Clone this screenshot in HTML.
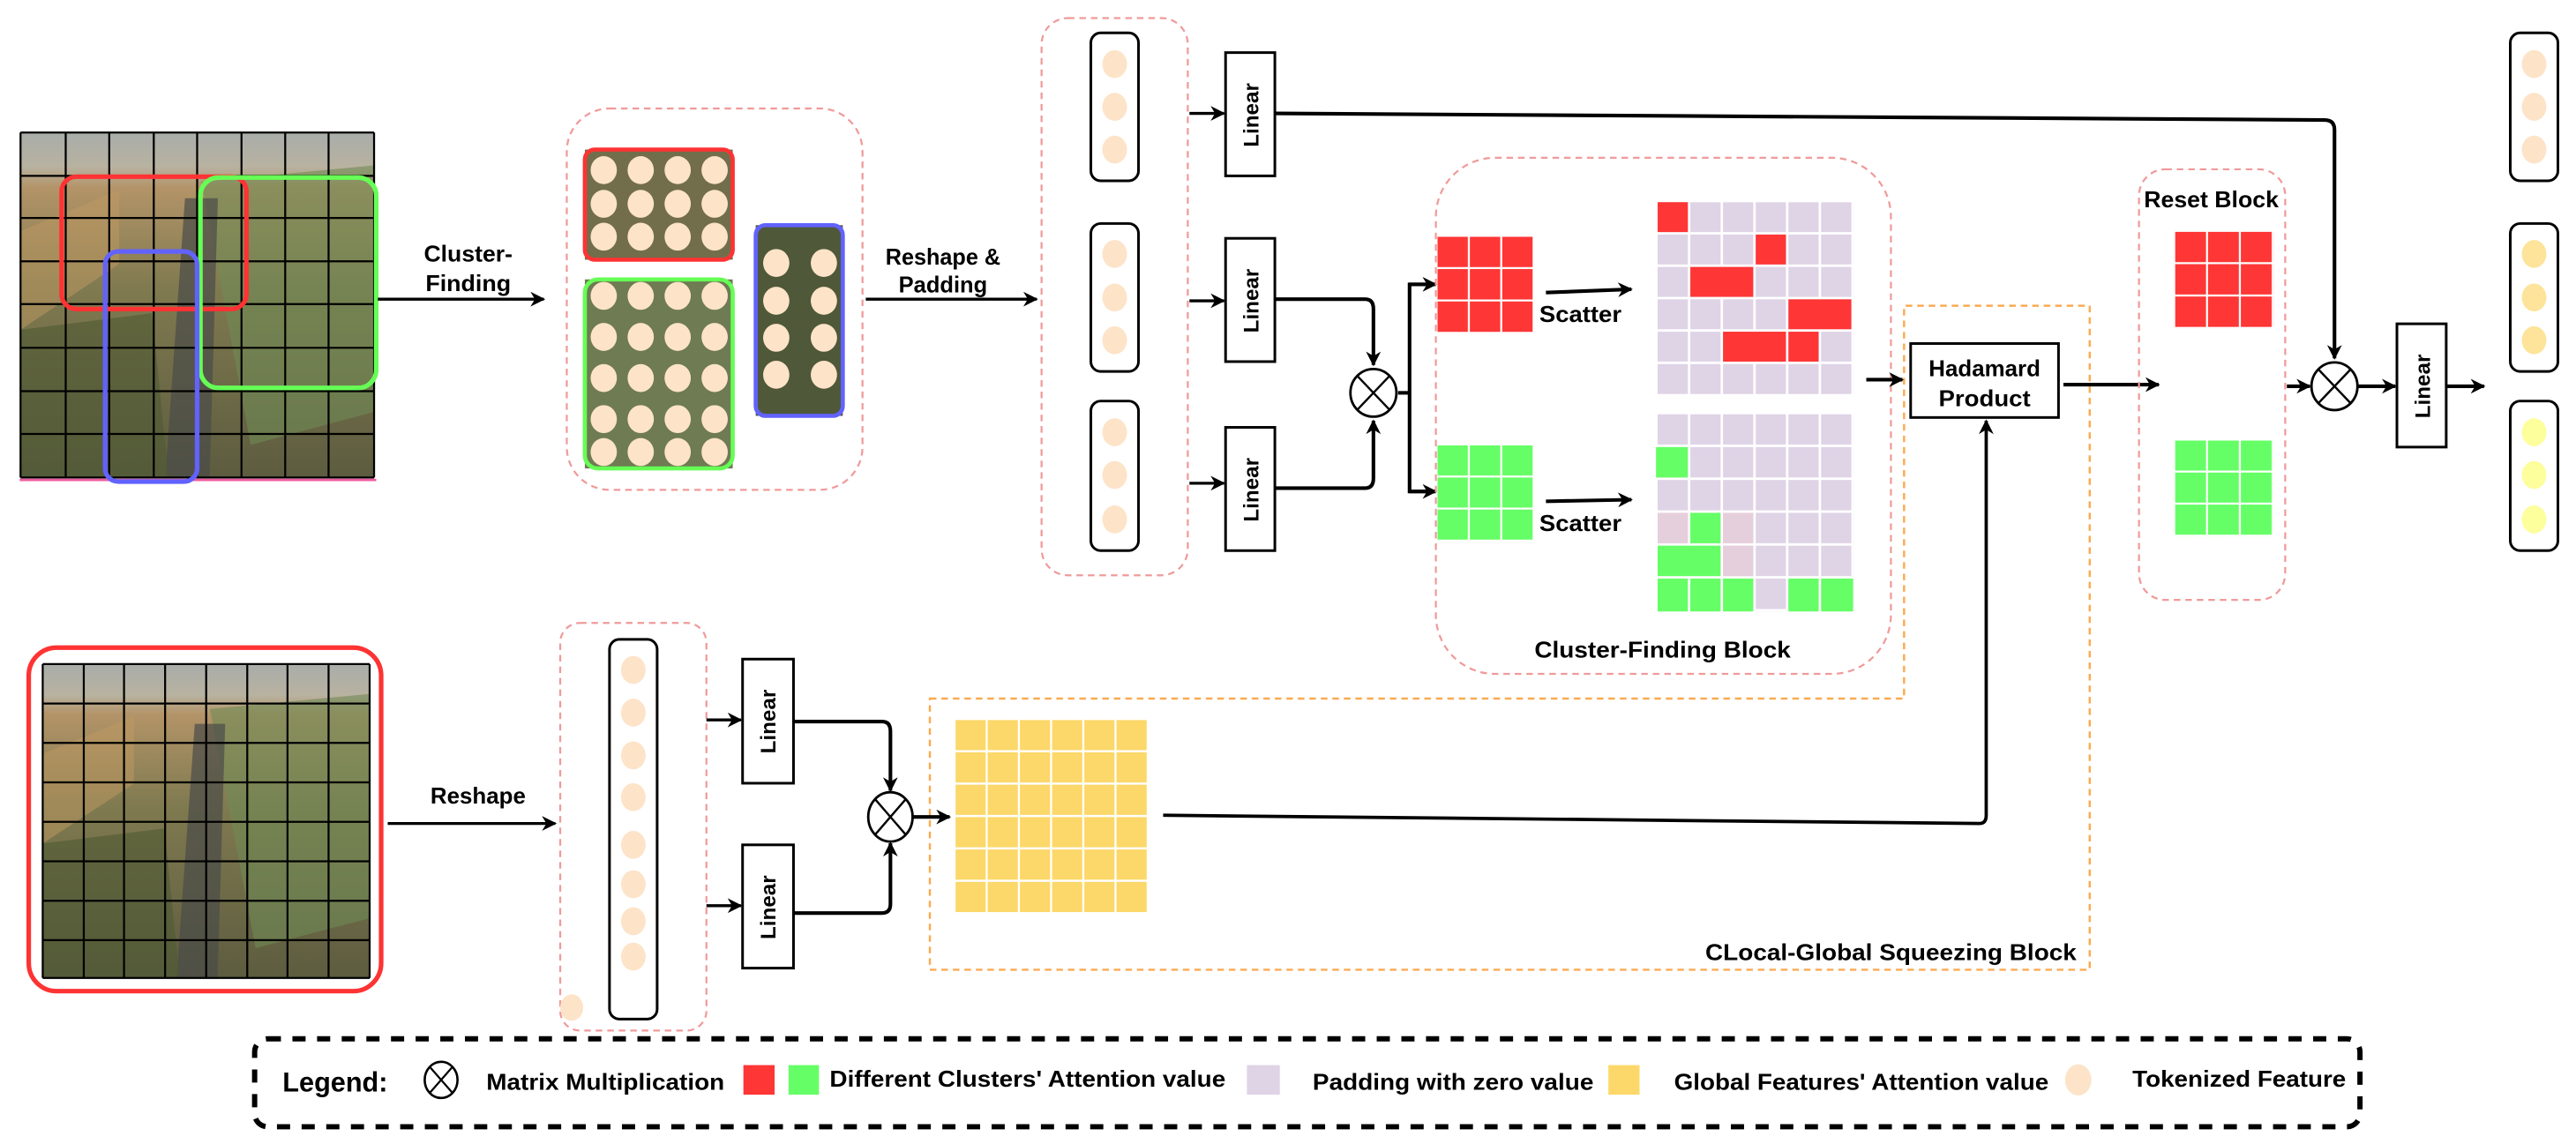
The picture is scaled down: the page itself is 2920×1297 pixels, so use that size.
<!DOCTYPE html>
<html><head><meta charset="utf-8"><style>
html,body{margin:0;padding:0;background:#fff;}
svg{display:block;}
text{font-family:"Liberation Sans",sans-serif;font-weight:bold;fill:#000;}
</style></head><body>
<svg width="2920" height="1297" viewBox="0 0 1568 696" preserveAspectRatio="none" xmlns="http://www.w3.org/2000/svg">
<defs>
<marker id="ah" viewBox="0 0 10 10" refX="9" refY="5" markerWidth="9" markerHeight="9" markerUnits="userSpaceOnUse" orient="auto"><path d="M0,0 L10,5 L0,10 L3,5 Z" fill="#000"/></marker>
<linearGradient id="ph" x1="0" y1="0" x2="0" y2="1">
<stop offset="0" stop-color="#a9adaa"/><stop offset="0.1" stop-color="#b8b2a0"/><stop offset="0.16" stop-color="#b39468"/><stop offset="0.45" stop-color="#807a50"/><stop offset="1" stop-color="#5d5c3f"/></linearGradient>
<pattern id="lav" x="1009" y="123" width="19.9" height="19.7" patternUnits="userSpaceOnUse"><rect width="18.4" height="18.2" fill="#dfd3e6"/></pattern>
<pattern id="lav2" x="1009" y="252" width="19.9" height="20" patternUnits="userSpaceOnUse"><rect width="18.4" height="18.5" fill="#dfd3e6"/></pattern>
<pattern id="rd" x="875" y="144" width="19.7" height="19.7" patternUnits="userSpaceOnUse"><rect width="18.5" height="18.5" fill="#fe3636"/></pattern>
<pattern id="gr" x="875" y="271" width="19.7" height="19.5" patternUnits="userSpaceOnUse"><rect width="18.5" height="18.3" fill="#66fe66"/></pattern>
<pattern id="rd2" x="1324" y="141" width="20" height="19.7" patternUnits="userSpaceOnUse"><rect width="18.8" height="18.5" fill="#fe3636"/></pattern>
<pattern id="gr2" x="1324" y="268" width="20" height="19.5" patternUnits="userSpaceOnUse"><rect width="18.8" height="18.3" fill="#66fe66"/></pattern>
<pattern id="yl" x="581.6" y="438" width="19.6" height="19.7" patternUnits="userSpaceOnUse"><rect width="18.4" height="18.4" fill="#fcd86a"/></pattern>
<g id="photo">
<rect x="0" y="0" width="215" height="210" fill="url(#ph)"/>
<path d="M110,30 L215,20 L215,170 L140,190 Z" fill="#6f8a55" opacity="0.6"/>
<path d="M100,40 L120,40 L115,210 L88,210 Z" fill="#4a4c48" opacity="0.7"/>
<path d="M0,60 L60,35 L60,80 L0,120 Z" fill="#c09a62" opacity="0.5"/>
<path d="M0,120 L80,110 L90,210 L0,210 Z" fill="#4f5a33" opacity="0.6"/>
</g>
</defs>

<use href="#photo" transform="translate(12.5 80.6) scale(1.0009 1.0)"/>
<line x1="12" y1="292" x2="229" y2="292" stroke="#f05ca0" stroke-width="1.5"/>
<g stroke="#000" stroke-width="1.2">
<line x1="12.5" y1="80.6" x2="227.7" y2="80.6"/><line x1="12.5" y1="107" x2="227.7" y2="107"/><line x1="12.5" y1="132.6" x2="227.7" y2="132.6"/><line x1="12.5" y1="159" x2="227.7" y2="159"/><line x1="12.5" y1="185" x2="227.7" y2="185"/><line x1="12.5" y1="211.6" x2="227.7" y2="211.6"/><line x1="12.5" y1="238" x2="227.7" y2="238"/><line x1="12.5" y1="264" x2="227.7" y2="264"/><line x1="12.5" y1="290.5" x2="227.7" y2="290.5"/>
<line x1="12.5" y1="80.6" x2="12.5" y2="290.5"/><line x1="40" y1="80.6" x2="40" y2="290.5"/><line x1="66.5" y1="80.6" x2="66.5" y2="290.5"/><line x1="93.6" y1="80.6" x2="93.6" y2="290.5"/><line x1="120" y1="80.6" x2="120" y2="290.5"/><line x1="147" y1="80.6" x2="147" y2="290.5"/><line x1="173.6" y1="80.6" x2="173.6" y2="290.5"/><line x1="200" y1="80.6" x2="200" y2="290.5"/><line x1="227.7" y1="80.6" x2="227.7" y2="290.5"/>
</g>
<rect x="37.5" y="107.5" width="112.5" height="80.5" rx="9" fill="none" stroke="#fe3333" stroke-width="2.8"/>
<rect x="122" y="108" width="107" height="128" rx="11" fill="none" stroke="#66fe55" stroke-width="2.8"/>
<rect x="64" y="153" width="56" height="140" rx="8" fill="none" stroke="#6262fe" stroke-width="2.8"/>

<line x1="230" y1="182" x2="331" y2="182" stroke="#000" stroke-width="1.8" marker-end="url(#ah)"/>
<text x="285" y="159" font-size="14" text-anchor="middle" textLength="54" lengthAdjust="spacingAndGlyphs">Cluster-</text>
<text x="285" y="177" font-size="14" text-anchor="middle" textLength="52" lengthAdjust="spacingAndGlyphs">Finding</text>

<rect x="345" y="66" width="180" height="232" rx="26" fill="none" stroke="#f09a9a" stroke-width="1.2" stroke-dasharray="4,3"/>
<rect x="356" y="91" width="90" height="67" fill="#726e4c"/>
<rect x="356" y="170" width="90" height="115" fill="#6e7b53"/>
<rect x="460" y="137" width="53" height="116" fill="#4f5838"/>
<g fill="#fde3c8">
<ellipse cx="367.5" cy="103.5" rx="8" ry="8.5"/><ellipse cx="390" cy="103.5" rx="8" ry="8.5"/><ellipse cx="412.5" cy="103.5" rx="8" ry="8.5"/><ellipse cx="435" cy="103.5" rx="8" ry="8.5"/>
<ellipse cx="367.5" cy="124" rx="8" ry="8.5"/><ellipse cx="390" cy="124" rx="8" ry="8.5"/><ellipse cx="412.5" cy="124" rx="8" ry="8.5"/><ellipse cx="435" cy="124" rx="8" ry="8.5"/>
<ellipse cx="367.5" cy="144" rx="8" ry="8.5"/><ellipse cx="390" cy="144" rx="8" ry="8.5"/><ellipse cx="412.5" cy="144" rx="8" ry="8.5"/><ellipse cx="435" cy="144" rx="8" ry="8.5"/>
<ellipse cx="367.5" cy="180" rx="8" ry="8.5"/><ellipse cx="390" cy="180" rx="8" ry="8.5"/><ellipse cx="412.5" cy="180" rx="8" ry="8.5"/><ellipse cx="435" cy="180" rx="8" ry="8.5"/>
<ellipse cx="367.5" cy="205" rx="8" ry="8.5"/><ellipse cx="390" cy="205" rx="8" ry="8.5"/><ellipse cx="412.5" cy="205" rx="8" ry="8.5"/><ellipse cx="435" cy="205" rx="8" ry="8.5"/>
<ellipse cx="367.5" cy="230" rx="8" ry="8.5"/><ellipse cx="390" cy="230" rx="8" ry="8.5"/><ellipse cx="412.5" cy="230" rx="8" ry="8.5"/><ellipse cx="435" cy="230" rx="8" ry="8.5"/>
<ellipse cx="367.5" cy="255" rx="8" ry="8.5"/><ellipse cx="390" cy="255" rx="8" ry="8.5"/><ellipse cx="412.5" cy="255" rx="8" ry="8.5"/><ellipse cx="435" cy="255" rx="8" ry="8.5"/>
<ellipse cx="367.5" cy="275" rx="8" ry="8.5"/><ellipse cx="390" cy="275" rx="8" ry="8.5"/><ellipse cx="412.5" cy="275" rx="8" ry="8.5"/><ellipse cx="435" cy="275" rx="8" ry="8.5"/>
<ellipse cx="472.5" cy="160" rx="8" ry="8.5"/><ellipse cx="501.5" cy="160" rx="8" ry="8.5"/>
<ellipse cx="472.5" cy="183" rx="8" ry="8.5"/><ellipse cx="501.5" cy="183" rx="8" ry="8.5"/>
<ellipse cx="472.5" cy="205.5" rx="8" ry="8.5"/><ellipse cx="501.5" cy="205.5" rx="8" ry="8.5"/>
<ellipse cx="472.5" cy="228" rx="8" ry="8.5"/><ellipse cx="501.5" cy="228" rx="8" ry="8.5"/>
</g>
<rect x="356" y="91" width="90" height="67" rx="6" fill="none" stroke="#fe3333" stroke-width="2.5"/>
<rect x="356" y="170" width="90" height="115" rx="8" fill="none" stroke="#66fe55" stroke-width="2.5"/>
<rect x="460" y="137" width="53" height="116" rx="6" fill="none" stroke="#6262fe" stroke-width="2.5"/>

<line x1="527" y1="182" x2="631" y2="182" stroke="#000" stroke-width="1.8" marker-end="url(#ah)"/>
<text x="574" y="161" font-size="14" text-anchor="middle" textLength="70" lengthAdjust="spacingAndGlyphs">Reshape &amp;</text>
<text x="574" y="178" font-size="14" text-anchor="middle" textLength="54" lengthAdjust="spacingAndGlyphs">Padding</text>

<rect x="634" y="11" width="89" height="339" rx="16" fill="none" stroke="#f09a9a" stroke-width="1.2" stroke-dasharray="4,3"/>
<g fill="none" stroke="#000" stroke-width="1.6">
<rect x="664" y="20" width="29" height="90" rx="6"/><rect x="664" y="136" width="29" height="90" rx="6"/><rect x="664" y="244" width="29" height="91" rx="6"/>
</g>
<g fill="#fde3c8">
<ellipse cx="678.5" cy="39" rx="7.5" ry="8.5"/><ellipse cx="678.5" cy="65" rx="7.5" ry="8.5"/><ellipse cx="678.5" cy="91" rx="7.5" ry="8.5"/>
<ellipse cx="678.5" cy="154.5" rx="7.5" ry="8.5"/><ellipse cx="678.5" cy="181" rx="7.5" ry="8.5"/><ellipse cx="678.5" cy="207" rx="7.5" ry="8.5"/>
<ellipse cx="678.5" cy="263" rx="7.5" ry="8.5"/><ellipse cx="678.5" cy="289" rx="7.5" ry="8.5"/><ellipse cx="678.5" cy="316" rx="7.5" ry="8.5"/>
</g>
<g stroke="#000" stroke-width="1.8">
<line x1="724" y1="69" x2="745" y2="69" marker-end="url(#ah)"/>
<line x1="724" y1="183" x2="745" y2="183" marker-end="url(#ah)"/>
<line x1="724" y1="294" x2="745" y2="294" marker-end="url(#ah)"/>
</g>
<g fill="#fff" stroke="#000" stroke-width="1.6">
<rect x="746" y="32" width="30" height="75"/><rect x="746" y="145" width="30" height="75"/><rect x="746" y="260" width="30" height="75"/>
</g>
<g font-size="13">
<text transform="translate(766 70) rotate(-90)" text-anchor="middle">Linear</text>
<text transform="translate(766 183) rotate(-90)" text-anchor="middle">Linear</text>
<text transform="translate(766 298) rotate(-90)" text-anchor="middle">Linear</text>
</g>

<g fill="none" stroke="#000" stroke-width="2.2">
<path d="M776,69 L1415,73 Q1421,73 1421,79 L1421,218" marker-end="url(#ah)"/>
<path d="M776,182 L831,182 Q836,182 836,188 L836,222" marker-end="url(#ah)"/>
<path d="M776,297 L831,297 Q836,297 836,291 L836,256" marker-end="url(#ah)"/>
<path d="M851,239 L858,239"/>
<path d="M873,173 L858,173 L858,299 L873,299"/>
</g>
<g stroke="#000" stroke-width="2.2">
<line x1="858" y1="173" x2="874" y2="173" marker-end="url(#ah)"/>
<line x1="858" y1="299" x2="874" y2="299" marker-end="url(#ah)"/>
</g>
<ellipse cx="836" cy="239" rx="14" ry="14.5" fill="#fff" stroke="#000" stroke-width="1.5"/>
<g stroke="#000" stroke-width="1.3"><line x1="826" y1="228.5" x2="846" y2="249.5"/><line x1="846" y1="228.5" x2="826" y2="249.5"/></g>

<rect x="874" y="96" width="277" height="314" rx="36" fill="none" stroke="#f09a9a" stroke-width="1.2" stroke-dasharray="4,3"/>
<rect x="875" y="144" width="59" height="59" fill="url(#rd)"/>
<rect x="875" y="271" width="59" height="58.5" fill="url(#gr)"/>
<g stroke="#000" stroke-width="2.2">
<line x1="941" y1="178" x2="993" y2="176" marker-end="url(#ah)"/>
<line x1="941" y1="305" x2="993" y2="304" marker-end="url(#ah)"/>
</g>
<text x="962" y="196" font-size="14" text-anchor="middle" textLength="50" lengthAdjust="spacingAndGlyphs">Scatter</text>
<text x="962" y="323" font-size="14" text-anchor="middle" textLength="50" lengthAdjust="spacingAndGlyphs">Scatter</text>
<rect x="1009" y="123" width="119.4" height="118.2" fill="url(#lav)"/>
<g fill="#fe3636">
<rect x="1009" y="123" width="18.4" height="18.2"/><rect x="1068.7" y="142.7" width="18.4" height="18.2"/>
<rect x="1028.9" y="162.4" width="38.3" height="18.2"/><rect x="1088.6" y="182.1" width="38.3" height="18.2"/>
<rect x="1048.8" y="201.8" width="38.3" height="18.2"/><rect x="1088.6" y="201.8" width="18.4" height="18.2"/>
</g>
<rect x="1009" y="252" width="119.4" height="120" fill="url(#lav2)"/>
<g fill="#e6cfdc"><rect x="1009" y="312" width="18.4" height="18.5"/><rect x="1048.8" y="312" width="18.4" height="18.5"/><rect x="1048.8" y="332" width="18.4" height="18.5"/></g>
<g fill="#66fe66">
<rect x="1008" y="272" width="19.4" height="18.5"/><rect x="1028.9" y="312" width="18.4" height="18.5"/>
<rect x="1009" y="332" width="38.3" height="18.5"/>
<rect x="1009" y="352" width="18.4" height="20"/><rect x="1028.9" y="352" width="18.4" height="20"/><rect x="1048.8" y="352" width="18.4" height="20"/>
<rect x="1088.6" y="352" width="18.4" height="20"/><rect x="1108.5" y="352" width="19.5" height="20"/>
</g>
<text x="1012" y="400" font-size="14" text-anchor="middle" textLength="156" lengthAdjust="spacingAndGlyphs">Cluster-Finding Block</text>

<path d="M566,425 L1159,425 L1159,186 L1272,186 L1272,590 L566,590 Z" fill="none" stroke="#fbaa50" stroke-width="1.3" stroke-dasharray="4,3"/>
<text x="1264" y="584" font-size="14" text-anchor="end" textLength="226" lengthAdjust="spacingAndGlyphs">CLocal-Global Squeezing Block</text>

<line x1="1136" y1="231" x2="1158" y2="231" stroke="#000" stroke-width="2.2" marker-end="url(#ah)"/>
<rect x="1163" y="209" width="90" height="45" fill="#fff" stroke="#000" stroke-width="1.6"/>
<text x="1208" y="229" font-size="14" text-anchor="middle" textLength="68" lengthAdjust="spacingAndGlyphs">Hadamard</text>
<text x="1208" y="247" font-size="14" text-anchor="middle" textLength="56" lengthAdjust="spacingAndGlyphs">Product</text>
<line x1="1256" y1="234" x2="1314" y2="234" stroke="#000" stroke-width="2.2" marker-end="url(#ah)"/>
<path d="M708,496 L1205,501 Q1209,501 1209,496 L1209,256" fill="none" stroke="#000" stroke-width="2" marker-end="url(#ah)"/>

<rect x="1302" y="103" width="89" height="262" rx="16" fill="none" stroke="#f09a9a" stroke-width="1.2" stroke-dasharray="4,3"/>
<text x="1346" y="126" font-size="14" text-anchor="middle" textLength="82" lengthAdjust="spacingAndGlyphs">Reset Block</text>
<rect x="1324" y="141" width="60" height="59" fill="url(#rd2)"/>
<rect x="1324" y="268" width="60" height="58.5" fill="url(#gr2)"/>

<line x1="1392" y1="235" x2="1406" y2="235" stroke="#000" stroke-width="2.2" marker-end="url(#ah)"/>
<ellipse cx="1421" cy="235" rx="14" ry="14.5" fill="#fff" stroke="#000" stroke-width="1.5"/>
<g stroke="#000" stroke-width="1.3"><line x1="1411" y1="224.5" x2="1431" y2="245.5"/><line x1="1431" y1="224.5" x2="1411" y2="245.5"/></g>
<line x1="1435" y1="235" x2="1458" y2="235" stroke="#000" stroke-width="2.2" marker-end="url(#ah)"/>
<rect x="1459" y="197" width="30" height="75" fill="#fff" stroke="#000" stroke-width="1.6"/>
<text transform="translate(1479 235) rotate(-90)" text-anchor="middle" font-size="13">Linear</text>
<line x1="1489" y1="235" x2="1512" y2="235" stroke="#000" stroke-width="2.2" marker-end="url(#ah)"/>

<g fill="none" stroke="#000" stroke-width="1.6">
<rect x="1528" y="20" width="29" height="90" rx="6"/><rect x="1528" y="136" width="29" height="90" rx="6"/><rect x="1528" y="244" width="29" height="91" rx="6"/>
</g>
<g fill="#fde3c8"><ellipse cx="1542.5" cy="39" rx="7.5" ry="8.5"/><ellipse cx="1542.5" cy="65" rx="7.5" ry="8.5"/><ellipse cx="1542.5" cy="91" rx="7.5" ry="8.5"/></g>
<g fill="#fde49a"><ellipse cx="1542.5" cy="154.5" rx="7.5" ry="8.5"/><ellipse cx="1542.5" cy="181" rx="7.5" ry="8.5"/><ellipse cx="1542.5" cy="207" rx="7.5" ry="8.5"/></g>
<g fill="#fdfe9c"><ellipse cx="1542.5" cy="263" rx="7.5" ry="8.5"/><ellipse cx="1542.5" cy="289" rx="7.5" ry="8.5"/><ellipse cx="1542.5" cy="316" rx="7.5" ry="8.5"/></g>

<use href="#photo" transform="translate(26 404) scale(0.9256 0.9095)"/>
<g stroke="#000" stroke-width="1.2">
<line x1="26" y1="404" x2="225" y2="404"/><line x1="26" y1="428" x2="225" y2="428"/><line x1="26" y1="452" x2="225" y2="452"/><line x1="26" y1="476" x2="225" y2="476"/><line x1="26" y1="500" x2="225" y2="500"/><line x1="26" y1="524" x2="225" y2="524"/><line x1="26" y1="548" x2="225" y2="548"/><line x1="26" y1="572" x2="225" y2="572"/><line x1="26" y1="595" x2="225" y2="595"/>
<line x1="26" y1="404" x2="26" y2="595"/><line x1="51" y1="404" x2="51" y2="595"/><line x1="75.5" y1="404" x2="75.5" y2="595"/><line x1="100.5" y1="404" x2="100.5" y2="595"/><line x1="125.5" y1="404" x2="125.5" y2="595"/><line x1="150.5" y1="404" x2="150.5" y2="595"/><line x1="175" y1="404" x2="175" y2="595"/><line x1="200" y1="404" x2="200" y2="595"/><line x1="225" y1="404" x2="225" y2="595"/>
</g>
<rect x="17.5" y="394" width="214.5" height="209" rx="17" fill="none" stroke="#fe3333" stroke-width="2.8"/>

<line x1="236" y1="501" x2="338" y2="501" stroke="#000" stroke-width="1.8" marker-end="url(#ah)"/>
<text x="291" y="489" font-size="14" text-anchor="middle" textLength="58" lengthAdjust="spacingAndGlyphs">Reshape</text>

<rect x="341" y="379" width="89" height="248" rx="12" fill="none" stroke="#f09a9a" stroke-width="1.2" stroke-dasharray="4,3"/>
<rect x="371" y="389" width="29" height="231" rx="6" fill="none" stroke="#000" stroke-width="1.6"/>
<g fill="#fde3c8">
<ellipse cx="385.5" cy="407.6" rx="7.5" ry="8.5"/><ellipse cx="385.5" cy="433.6" rx="7.5" ry="8.5"/><ellipse cx="385.5" cy="459.6" rx="7.5" ry="8.5"/><ellipse cx="385.5" cy="485" rx="7.5" ry="8.5"/>
<ellipse cx="385.5" cy="514" rx="7.5" ry="8.5"/><ellipse cx="385.5" cy="538" rx="7.5" ry="8.5"/><ellipse cx="385.5" cy="560.5" rx="7.5" ry="8.5"/><ellipse cx="385.5" cy="582" rx="7.5" ry="8.5"/>
<ellipse cx="348" cy="613" rx="7" ry="8"/>
</g>
<g stroke="#000" stroke-width="1.8">
<line x1="430" y1="438" x2="451" y2="438" marker-end="url(#ah)"/>
<line x1="430" y1="551" x2="451" y2="551" marker-end="url(#ah)"/>
</g>
<g fill="#fff" stroke="#000" stroke-width="1.6"><rect x="452" y="401" width="31" height="75.5"/><rect x="452" y="514" width="31" height="75"/></g>
<text transform="translate(472 439) rotate(-90)" text-anchor="middle" font-size="13">Linear</text>
<text transform="translate(472 552) rotate(-90)" text-anchor="middle" font-size="13">Linear</text>
<g fill="none" stroke="#000" stroke-width="2.2">
<path d="M483,439 L537,439 Q542,439 542,445 L542,481" marker-end="url(#ah)"/>
<path d="M483,555.5 L537,555.5 Q542,555.5 542,550 L542,513" marker-end="url(#ah)"/>
</g>
<ellipse cx="542" cy="497" rx="13.5" ry="15" fill="#fff" stroke="#000" stroke-width="1.5"/>
<g stroke="#000" stroke-width="1.3"><line x1="532.5" y1="486" x2="551.5" y2="508"/><line x1="551.5" y1="486" x2="532.5" y2="508"/></g>
<line x1="556" y1="497" x2="578" y2="497" stroke="#000" stroke-width="2.2" marker-end="url(#ah)"/>
<rect x="581.6" y="438" width="117.4" height="118" fill="url(#yl)"/>

<rect x="155" y="632" width="1281.5" height="53.5" rx="8" fill="none" stroke="#000" stroke-width="3.2" stroke-dasharray="8,7"/>
<text x="172" y="664" font-size="17" textLength="64" lengthAdjust="spacingAndGlyphs">Legend:</text>
<ellipse cx="268.5" cy="657" rx="10" ry="11" fill="#fff" stroke="#000" stroke-width="1.4"/>
<g stroke="#000" stroke-width="1.2"><line x1="261.5" y1="649" x2="275.5" y2="665"/><line x1="275.5" y1="649" x2="261.5" y2="665"/></g>
<text x="296" y="663" font-size="14" textLength="145" lengthAdjust="spacingAndGlyphs">Matrix Multiplication</text>
<rect x="452.5" y="648" width="19" height="18" fill="#fe3636"/>
<rect x="480" y="648" width="18.5" height="18" fill="#66fe66"/>
<text x="505" y="661" font-size="14" textLength="241" lengthAdjust="spacingAndGlyphs">Different Clusters' Attention value</text>
<rect x="759" y="648" width="20" height="18" fill="#dfd3e6"/>
<text x="799" y="663" font-size="14" textLength="171" lengthAdjust="spacingAndGlyphs">Padding with zero value</text>
<rect x="979" y="648" width="19" height="18" fill="#fcd86a"/>
<text x="1019" y="663" font-size="14" textLength="228" lengthAdjust="spacingAndGlyphs">Global Features' Attention value</text>
<ellipse cx="1265" cy="657" rx="8" ry="9.5" fill="#fde3c8"/>
<text x="1298" y="661" font-size="14" textLength="130" lengthAdjust="spacingAndGlyphs">Tokenized Feature</text>
</svg>
</body></html>
